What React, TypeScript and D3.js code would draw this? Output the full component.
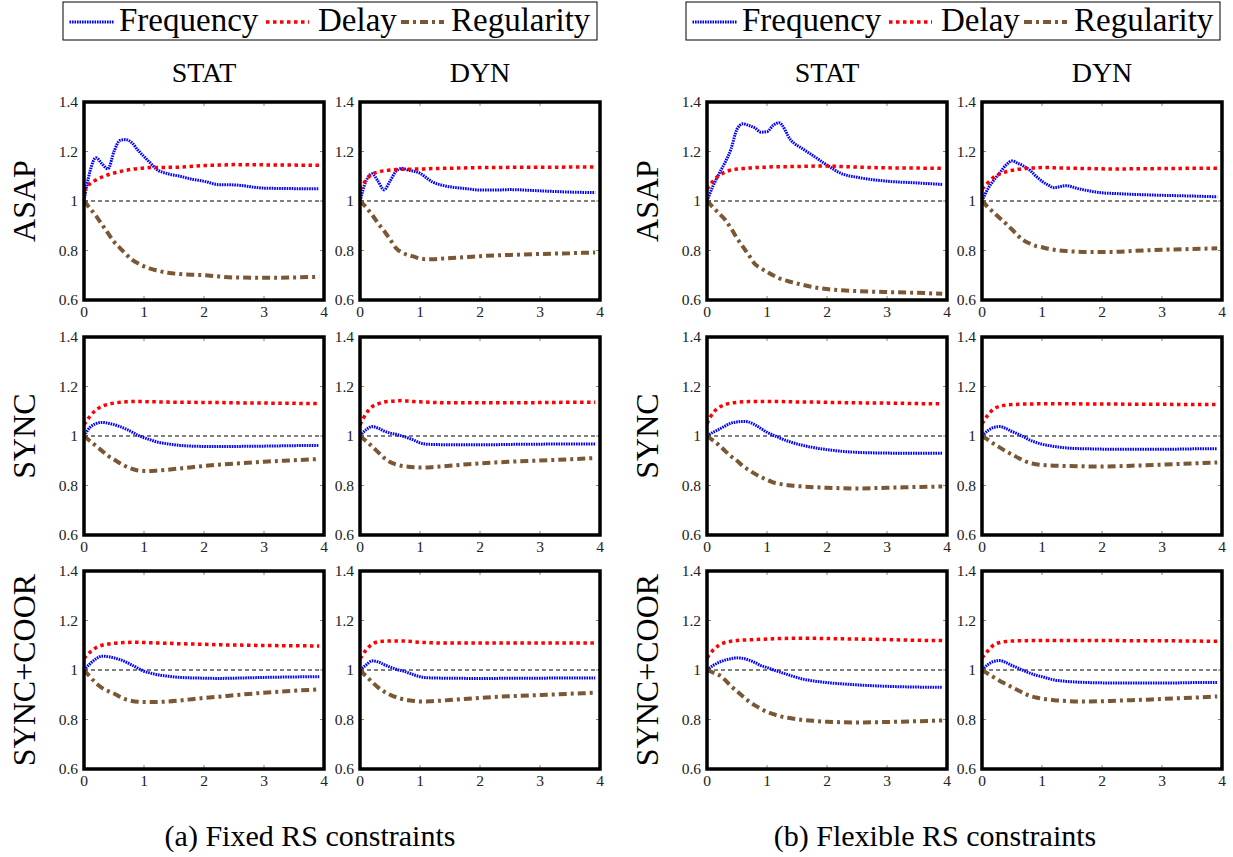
import React from "react";
import * as d3 from "d3";

// shared x samples (time axis)
const X = [0, 0.1, 0.2, 0.3, 0.4, 0.5, 0.6, 0.7, 0.8, 0.9, 1.0, 1.1, 1.2, 1.4, 1.6, 1.8, 2.0, 2.25, 2.5, 3.0, 3.5, 3.92];

const SERIES = ["Frequency", "Delay", "Regularity"];
const ROWS = ["ASAP", "SYNC", "SYNC+COOR"];
const COLS = ["STAT", "DYN"];
const CAPTIONS = ["(a) Fixed RS constraints", "(b) Flexible RS constraints"];
const Y_TICKS = [0.6, 0.8, 1, 1.2, 1.4];
const X_TICKS = [0, 1, 2, 3, 4];

// (a) fixed, STAT
const FIX_STAT_ASAP_FREQ = [1.0, 1.12, 1.175, 1.15, 1.13, 1.2, 1.245, 1.248, 1.235, 1.205, 1.18, 1.155, 1.13, 1.11, 1.1, 1.088, 1.08, 1.066, 1.065, 1.052, 1.05, 1.049];
const FIX_STAT_ASAP_DELAY = [1.04, 1.07, 1.085, 1.097, 1.106, 1.113, 1.119, 1.124, 1.128, 1.131, 1.133, 1.135, 1.135, 1.136, 1.137, 1.14, 1.143, 1.145, 1.147, 1.146, 1.145, 1.144];
const FIX_STAT_ASAP_REG = [1.0, 0.97, 0.94, 0.905, 0.87, 0.835, 0.81, 0.785, 0.763, 0.748, 0.736, 0.727, 0.72, 0.71, 0.705, 0.702, 0.7, 0.695, 0.691, 0.69, 0.691, 0.694];
const FIX_STAT_SYNC_FREQ = [1.0, 1.035, 1.05, 1.055, 1.052, 1.046, 1.038, 1.028, 1.016, 1.003, 0.993, 0.985, 0.977, 0.968, 0.962, 0.959, 0.958, 0.958, 0.958, 0.959, 0.961, 0.962];
const FIX_STAT_SYNC_DELAY = [1.045, 1.08, 1.105, 1.12, 1.128, 1.133, 1.136, 1.138, 1.139, 1.139, 1.139, 1.138, 1.138, 1.137, 1.136, 1.136, 1.135, 1.135, 1.134, 1.133, 1.132, 1.131];
const FIX_STAT_SYNC_REG = [1.0, 0.98, 0.96, 0.94, 0.92, 0.905, 0.89, 0.877, 0.867, 0.861, 0.859, 0.859, 0.86, 0.864, 0.869, 0.874, 0.879, 0.884, 0.888, 0.896, 0.902, 0.907];
const FIX_STAT_COOR_FREQ = [1.0, 1.025, 1.045, 1.056, 1.054, 1.049, 1.042, 1.032, 1.02, 1.007, 0.995, 0.988, 0.982, 0.975, 0.97, 0.968, 0.967, 0.966, 0.967, 0.97, 0.972, 0.973];
const FIX_STAT_COOR_DELAY = [1.046, 1.072, 1.09, 1.1, 1.105, 1.108, 1.11, 1.111, 1.112, 1.112, 1.111, 1.11, 1.109, 1.108, 1.106, 1.105, 1.104, 1.102, 1.101, 1.099, 1.098, 1.097];
const FIX_STAT_COOR_REG = [1.0, 0.973, 0.947, 0.928, 0.915, 0.905, 0.892, 0.881, 0.875, 0.872, 0.871, 0.871, 0.871, 0.873, 0.877, 0.882, 0.887, 0.892, 0.898, 0.908, 0.916, 0.922];

// (a) fixed, DYN
const FIX_DYN_ASAP_FREQ = [1.0, 1.08, 1.11, 1.08, 1.045, 1.08, 1.12, 1.132, 1.125, 1.12, 1.112, 1.095, 1.078, 1.062, 1.054, 1.049, 1.044, 1.044, 1.046, 1.041, 1.036, 1.034];
const FIX_DYN_ASAP_DELAY = [1.047, 1.085, 1.108, 1.117, 1.122, 1.125, 1.127, 1.128, 1.128, 1.129, 1.129, 1.13, 1.131, 1.132, 1.133, 1.134, 1.135, 1.135, 1.136, 1.136, 1.137, 1.137];
const FIX_DYN_ASAP_REG = [1.0, 0.975, 0.945, 0.91, 0.88, 0.845, 0.81, 0.792, 0.782, 0.775, 0.768, 0.765, 0.765, 0.768, 0.771, 0.774, 0.777, 0.78, 0.782, 0.786, 0.789, 0.792];
const FIX_DYN_SYNC_FREQ = [1.0, 1.025, 1.038, 1.032, 1.02, 1.012, 1.007, 1.0, 0.992, 0.983, 0.972, 0.967, 0.966, 0.965, 0.965, 0.965, 0.965, 0.965, 0.966, 0.967, 0.968, 0.968];
const FIX_DYN_SYNC_DELAY = [1.045, 1.09, 1.118, 1.13, 1.137, 1.14, 1.142, 1.143, 1.141, 1.139, 1.138, 1.137, 1.136, 1.134, 1.134, 1.134, 1.134, 1.134, 1.134, 1.135, 1.136, 1.136];
const FIX_DYN_SYNC_REG = [1.0, 0.98, 0.958, 0.935, 0.912, 0.895, 0.885, 0.879, 0.876, 0.874, 0.873, 0.873, 0.874, 0.878, 0.882, 0.886, 0.889, 0.893, 0.896, 0.901, 0.906, 0.911];
const FIX_DYN_COOR_FREQ = [1.0, 1.02, 1.037, 1.033, 1.022, 1.012, 1.003, 0.997, 0.989, 0.98, 0.973, 0.969, 0.968, 0.967, 0.967, 0.966, 0.966, 0.966, 0.967, 0.967, 0.968, 0.968];
const FIX_DYN_COOR_DELAY = [1.045, 1.08, 1.104, 1.114, 1.116, 1.117, 1.117, 1.117, 1.116, 1.114, 1.112, 1.111, 1.11, 1.109, 1.109, 1.109, 1.109, 1.109, 1.109, 1.109, 1.109, 1.109];
const FIX_DYN_COOR_REG = [1.0, 0.975, 0.952, 0.93, 0.913, 0.9, 0.89, 0.883, 0.878, 0.875, 0.873, 0.873, 0.874, 0.877, 0.881, 0.884, 0.887, 0.891, 0.894, 0.899, 0.904, 0.908];

// (b) flexible, STAT
const FLX_STAT_ASAP_FREQ = [1.0, 1.06, 1.11, 1.155, 1.21, 1.29, 1.312, 1.305, 1.295, 1.278, 1.28, 1.305, 1.316, 1.245, 1.21, 1.178, 1.145, 1.11, 1.096, 1.08, 1.073, 1.067];
const FLX_STAT_ASAP_DELAY = [1.048, 1.08, 1.103, 1.117, 1.125, 1.129, 1.131, 1.133, 1.135, 1.136, 1.137, 1.138, 1.138, 1.139, 1.14, 1.141, 1.141, 1.139, 1.137, 1.134, 1.133, 1.132];
const FLX_STAT_ASAP_REG = [1.0, 0.975, 0.95, 0.925, 0.89, 0.85, 0.815, 0.78, 0.745, 0.728, 0.714, 0.7, 0.688, 0.673, 0.661, 0.651, 0.644, 0.639, 0.636, 0.632, 0.629, 0.625];
const FLX_STAT_SYNC_FREQ = [1.0, 1.015, 1.027, 1.04, 1.052, 1.057, 1.059, 1.056, 1.045, 1.03, 1.015, 1.004, 0.993, 0.975, 0.962, 0.952, 0.945, 0.938, 0.934, 0.931, 0.93, 0.93];
const FLX_STAT_SYNC_DELAY = [1.05, 1.093, 1.115, 1.127, 1.133, 1.136, 1.138, 1.139, 1.139, 1.139, 1.139, 1.139, 1.139, 1.138, 1.137, 1.137, 1.136, 1.135, 1.134, 1.133, 1.131, 1.13];
const FLX_STAT_SYNC_REG = [1.0, 0.982, 0.963, 0.94, 0.918, 0.9, 0.878, 0.862, 0.847, 0.834, 0.823, 0.813, 0.807, 0.8, 0.796, 0.793, 0.791, 0.789, 0.788, 0.791, 0.794, 0.796];
const FLX_STAT_COOR_FREQ = [1.0, 1.018, 1.031, 1.04, 1.046, 1.049, 1.047, 1.04, 1.03, 1.018, 1.01, 1.001, 0.993, 0.977, 0.963, 0.955, 0.949, 0.944, 0.94, 0.934, 0.931, 0.93];
const FLX_STAT_COOR_DELAY = [1.049, 1.08, 1.1, 1.111, 1.116, 1.119, 1.121, 1.122, 1.123, 1.124, 1.125, 1.126, 1.127, 1.128, 1.128, 1.128, 1.127, 1.126, 1.125, 1.123, 1.12, 1.119];
const FLX_STAT_COOR_REG = [1.0, 0.99, 0.98, 0.96, 0.935, 0.914, 0.893, 0.873, 0.857, 0.843, 0.831, 0.822, 0.814, 0.805, 0.798, 0.794, 0.791, 0.789, 0.788, 0.79, 0.793, 0.796];

// (b) flexible, DYN
const FLX_DYN_ASAP_FREQ = [1.0, 1.05, 1.085, 1.115, 1.145, 1.162, 1.152, 1.14, 1.124, 1.1, 1.08, 1.065, 1.054, 1.062, 1.05, 1.04, 1.033, 1.03, 1.027, 1.023, 1.02, 1.017];
const FLX_DYN_ASAP_DELAY = [1.048, 1.074, 1.097, 1.11, 1.118, 1.124, 1.128, 1.131, 1.133, 1.134, 1.135, 1.135, 1.134, 1.133, 1.132, 1.131, 1.13, 1.129, 1.13, 1.131, 1.132, 1.132];
const FLX_DYN_ASAP_REG = [1.0, 0.975, 0.952, 0.93, 0.908, 0.885, 0.86, 0.84, 0.828, 0.818, 0.813, 0.807, 0.803, 0.798, 0.795, 0.794, 0.794, 0.795, 0.798, 0.803, 0.806, 0.809];
const FLX_DYN_SYNC_FREQ = [1.0, 1.022, 1.035, 1.038, 1.03, 1.018, 1.008, 0.996, 0.983, 0.974, 0.967, 0.962, 0.958, 0.952, 0.949, 0.948, 0.947, 0.946, 0.946, 0.946, 0.948, 0.949];
const FLX_DYN_SYNC_DELAY = [1.049, 1.085, 1.11, 1.12, 1.125, 1.127, 1.128, 1.129, 1.129, 1.13, 1.13, 1.13, 1.13, 1.13, 1.13, 1.129, 1.129, 1.129, 1.128, 1.128, 1.127, 1.127];
const FLX_DYN_SYNC_REG = [1.0, 0.985, 0.968, 0.953, 0.938, 0.925, 0.912, 0.9, 0.891, 0.886, 0.883, 0.881, 0.88, 0.879, 0.878, 0.877, 0.877, 0.878, 0.88, 0.884, 0.889, 0.893];
const FLX_DYN_COOR_FREQ = [1.0, 1.022, 1.035, 1.038, 1.03, 1.018, 1.008, 0.997, 0.987, 0.979, 0.973, 0.966, 0.96, 0.954, 0.951, 0.949, 0.948, 0.947, 0.947, 0.947, 0.949, 0.95];
const FLX_DYN_COOR_DELAY = [1.049, 1.078, 1.102, 1.111, 1.115, 1.117, 1.118, 1.118, 1.119, 1.119, 1.119, 1.119, 1.119, 1.119, 1.119, 1.119, 1.119, 1.119, 1.118, 1.118, 1.117, 1.116];
const FLX_DYN_COOR_REG = [1.0, 0.985, 0.97, 0.956, 0.943, 0.93, 0.918, 0.906, 0.895, 0.889, 0.884, 0.881, 0.878, 0.875, 0.873, 0.873, 0.874, 0.876, 0.878, 0.883, 0.888, 0.893];

// group -> column -> row -> [freq, delay, reg]
const GRID = [
  [
    [
      [FIX_STAT_ASAP_FREQ, FIX_STAT_ASAP_DELAY, FIX_STAT_ASAP_REG],
      [FIX_STAT_SYNC_FREQ, FIX_STAT_SYNC_DELAY, FIX_STAT_SYNC_REG],
      [FIX_STAT_COOR_FREQ, FIX_STAT_COOR_DELAY, FIX_STAT_COOR_REG],
    ],
    [
      [FIX_DYN_ASAP_FREQ, FIX_DYN_ASAP_DELAY, FIX_DYN_ASAP_REG],
      [FIX_DYN_SYNC_FREQ, FIX_DYN_SYNC_DELAY, FIX_DYN_SYNC_REG],
      [FIX_DYN_COOR_FREQ, FIX_DYN_COOR_DELAY, FIX_DYN_COOR_REG],
    ],
  ],
  [
    [
      [FLX_STAT_ASAP_FREQ, FLX_STAT_ASAP_DELAY, FLX_STAT_ASAP_REG],
      [FLX_STAT_SYNC_FREQ, FLX_STAT_SYNC_DELAY, FLX_STAT_SYNC_REG],
      [FLX_STAT_COOR_FREQ, FLX_STAT_COOR_DELAY, FLX_STAT_COOR_REG],
    ],
    [
      [FLX_DYN_ASAP_FREQ, FLX_DYN_ASAP_DELAY, FLX_DYN_ASAP_REG],
      [FLX_DYN_SYNC_FREQ, FLX_DYN_SYNC_DELAY, FLX_DYN_SYNC_REG],
      [FLX_DYN_COOR_FREQ, FLX_DYN_COOR_DELAY, FLX_DYN_COOR_REG],
    ],
  ],
];

const FONT = "Liberation Serif, DejaVu Serif, serif";
const STYLES = [
  { color: "#0000ff", width: 3, dash: "1.6,0.9" },
  { color: "#ff0000", width: 3.5, dash: "3.5,3.5" },
  { color: "#7b5733", width: 4, dash: "8,4,3,4" },
];

const W = 1233;
const H = 857;
const PW = 240;
const PH = 198;
const groupLeft = [
  [84, 360],
  [707, 982],
];
const rowTop = [102, 337, 571];
const legendLeft = [63, 686];
const captionX = [310, 935];

const Panel = ({ left, top, series, showRowLabel, rowLabel }) => {
  const x = d3.scaleLinear().domain([0, 4]).range([left, left + PW]);
  const y = d3.scaleLinear().domain([0.6, 1.4]).range([top + PH, top]);
  const line = d3
    .line<number>()
    .x((_, i) => x(X[i]))
    .y((d) => y(d))
    .curve(d3.curveMonotoneX);

  return (
    <g>
      {/* ticks, inside the frame */}
      {X_TICKS.slice(1, -1).map((t) => (
        <g key={`xt-${t}`} stroke="#666" strokeWidth={0.8}>
          <line x1={x(t)} x2={x(t)} y1={top + PH} y2={top + PH - 4} />
          <line x1={x(t)} x2={x(t)} y1={top} y2={top + 4} />
        </g>
      ))}
      {Y_TICKS.slice(1, -1).map((t) => (
        <g key={`yt-${t}`} stroke="#666" strokeWidth={0.8}>
          <line x1={left} x2={left + 4} y1={y(t)} y2={y(t)} />
          <line x1={left + PW} x2={left + PW - 4} y1={y(t)} y2={y(t)} />
        </g>
      ))}

      {/* reference line at 1 */}
      <line
        x1={left}
        x2={left + PW}
        y1={y(1)}
        y2={y(1)}
        stroke="#000"
        strokeWidth={1}
        strokeDasharray="4,3"
      />

      {series.map((vals, k) => (
        <path
          key={SERIES[k]}
          d={line(vals)}
          fill="none"
          stroke={STYLES[k].color}
          strokeWidth={STYLES[k].width}
          strokeDasharray={STYLES[k].dash}
        />
      ))}

      <rect x={left} y={top} width={PW} height={PH} fill="none" stroke="#000" strokeWidth={3.5} />

      {/* tick labels */}
      {Y_TICKS.map((t) => (
        <text
          key={`yl-${t}`}
          x={left - 6}
          y={y(t) + 5}
          textAnchor="end"
          fontSize={15.5}
          fontFamily={FONT}
          fill="#222"
        >
          {String(t)}
        </text>
      ))}
      {X_TICKS.map((t) => (
        <text
          key={`xl-${t}`}
          x={x(t)}
          y={top + PH + 17}
          textAnchor="middle"
          fontSize={15.5}
          fontFamily={FONT}
          fill="#222"
        >
          {t}
        </text>
      ))}

      {showRowLabel && (
        <text
          transform={`translate(${left - 49}, ${top + PH / 2}) rotate(-90)`}
          textAnchor="middle"
          fontSize={32}
          fontFamily={FONT}
          fill="#000"
        >
          {rowLabel}
        </text>
      )}
    </g>
  );
};

const Legend = ({ left }) => {
  const items = [
    { x1: 6.5, x2: 50.5, tx: 56 },
    { x1: 203, x2: 246, tx: 255 },
    { x1: 338, x2: 381, tx: 388 },
  ];
  return (
    <g transform={`translate(${left}, 2)`}>
      <rect x={0} y={0} width={534} height={38} fill="#fff" stroke="#000" strokeWidth={1} />
      {items.map((it, k) => (
        <g key={SERIES[k]}>
          <line
            x1={it.x1}
            x2={it.x2}
            y1={20}
            y2={20}
            stroke={STYLES[k].color}
            strokeWidth={STYLES[k].width}
            strokeDasharray={STYLES[k].dash}
          />
          <text x={it.tx} y={29} fontSize={33} fontFamily={FONT} fill="#000">
            {SERIES[k]}
          </text>
        </g>
      ))}
    </g>
  );
};

export default function App() {
  return (
    <svg
      width={W}
      height={H}
      style={{ position: "absolute", left: 0, top: 0, background: "#fff" }}
    >
      {GRID.map((group, g) => (
        <g key={`g-${g}`}>
          <Legend left={legendLeft[g]} />
          {COLS.map((col, c) => (
            <text
              key={`ct-${c}`}
              x={groupLeft[g][c] + PW / 2}
              y={82}
              textAnchor="middle"
              fontSize={28}
              fontFamily={FONT}
              fill="#000"
            >
              {col}
            </text>
          ))}
          {group.map((column, c) =>
            column.map((series, r) => (
              <Panel
                key={`p-${g}-${c}-${r}`}
                left={groupLeft[g][c]}
                top={rowTop[r]}
                series={series}
                showRowLabel={c === 0}
                rowLabel={ROWS[r]}
              />
            ))
          )}
          <text
            x={captionX[g]}
            y={846}
            textAnchor="middle"
            fontSize={30}
            fontFamily={FONT}
            fill="#000"
          >
            {CAPTIONS[g]}
          </text>
        </g>
      ))}
    </svg>
  );
}
